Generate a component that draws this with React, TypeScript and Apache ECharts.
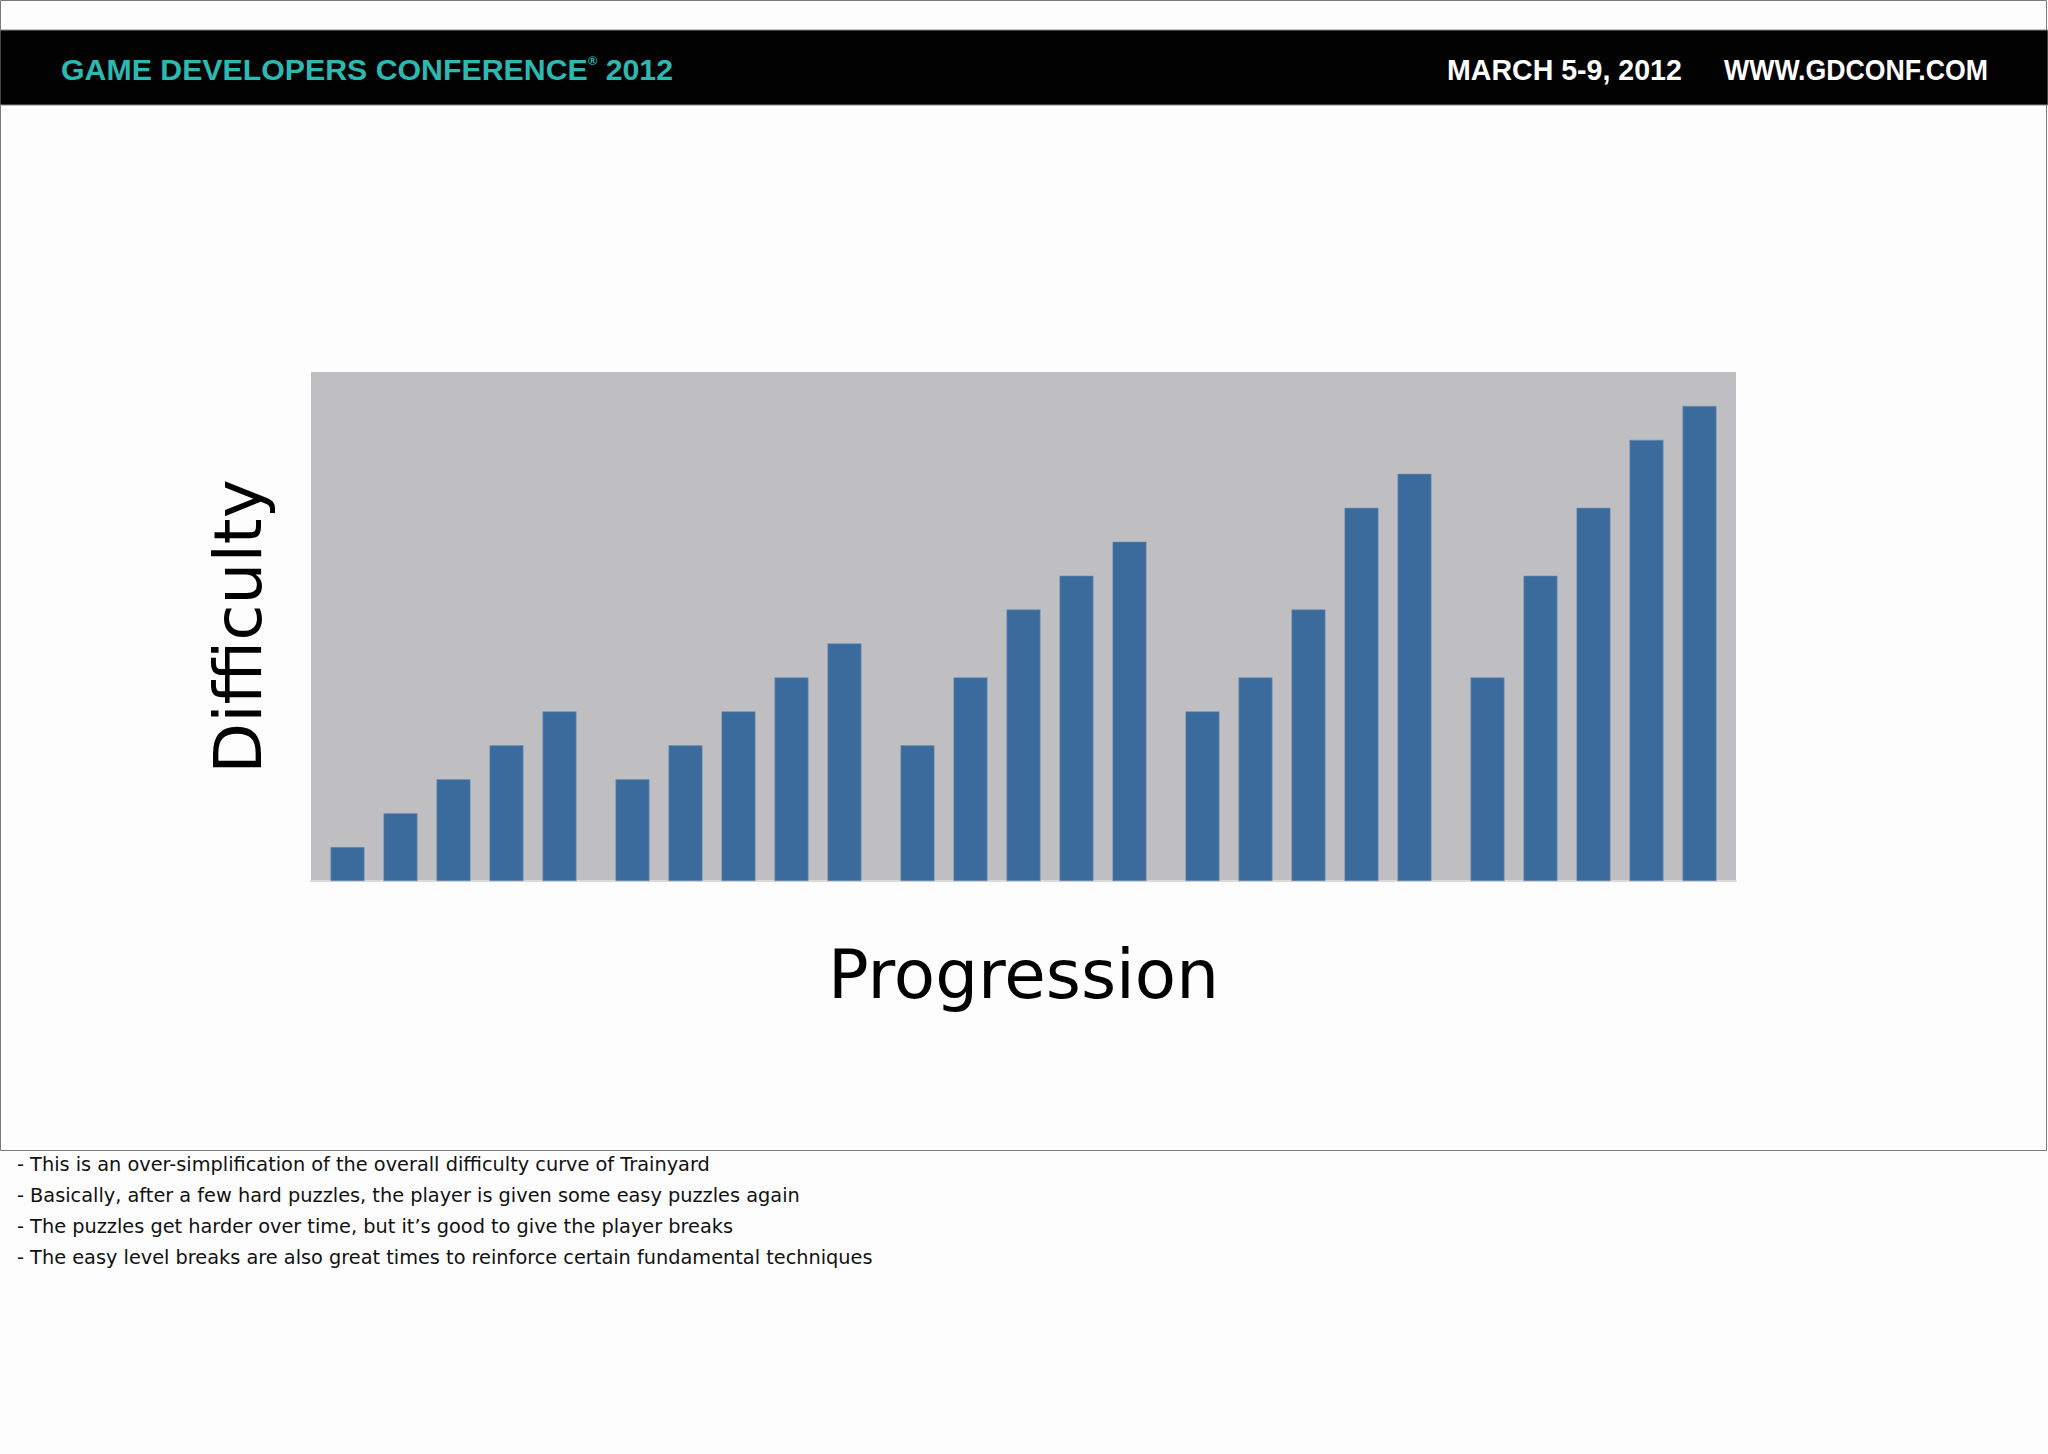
import React, { useEffect, useRef } from 'react';
import * as echarts from 'echarts';

// ---- data ----
const groupNames = ['Set 1', 'Set 2', 'Set 3', 'Set 4', 'Set 5'];
const levelNames = ['Puzzle 1', 'Puzzle 2', 'Puzzle 3', 'Puzzle 4', 'Puzzle 5'];
const set1 = [1, 2, 3, 4, 5];
const set2 = [3, 4, 5, 6, 7];
const set3 = [4, 6, 8, 9, 10];
const set4 = [5, 6, 8, 11, 12];
const set5 = [6, 9, 11, 13, 14];
const difficultyMax = 15;
const xAxisTitle = 'Progression';
const yAxisTitle = 'Difficulty';
const headerTitle = 'GAME DEVELOPERS CONFERENCE';
const headerMark = '®';
const headerYear = ' 2012';
const headerDate = 'MARCH 5-9, 2012';
const headerUrl = 'WWW.GDCONF.COM';
const notes = [
  '- This is an over-simplification of the overall difficulty curve of Trainyard',
  '- Basically, after a few hard puzzles, the player is given some easy puzzles again',
  '- The puzzles get harder over time, but it\u2019s good to give the player breaks',
  '- The easy level breaks are also great times to reinforce certain fundamental techniques',
];

function textWidth(text: string, font: string): number {
  const ctx = document.createElement('canvas').getContext('2d')!;
  ctx.font = font;
  return ctx.measureText(text).width;
}

export default function App() {
  const ref = useRef<HTMLDivElement>(null);

  useEffect(() => {
    const chart = echarts.init(ref.current!, null, { renderer: 'svg' });
    const sets = [set1, set2, set3, set4, set5];

    const series = levelNames.map((name, i) => ({
      type: 'bar' as const,
      name,
      data: sets.map((s) => s[i]),
      barGap: '56%',
      barCategoryGap: '13.7%',
      itemStyle: { color: '#3b6b9d', borderColor: '#6f92b8', borderWidth: 0.6 },
    }));

    const hFont = 'bold 29px "Liberation Sans"';
    const hMarkFont = 'bold 12px "Liberation Sans"';
    const titleNat =
      textWidth(headerTitle, hFont) + textWidth(headerMark, hMarkFont) + textWidth(headerYear, hFont);
    const titleScale = 612 / titleNat;
    const dateScale = 235 / textWidth(headerDate, hFont);
    const urlScale = 264 / textWidth(headerUrl, hFont);

    const noteSize = (17 * 693) / textWidth(notes[0], '17px "DejaVu Sans"');

    const graphic: any[] = [
      {
        type: 'rect',
        shape: { x: 0.5, y: 0.5, width: 2046, height: 1150 },
        style: { fill: 'none', stroke: '#7a7a7a', lineWidth: 1 },
        silent: true,
      },
      {
        type: 'rect',
        shape: { x: 0, y: 30, width: 2048, height: 75 },
        style: { fill: '#020202', stroke: '#8a8a8a', lineWidth: 1 },
        silent: true,
      },
      {
        type: 'text',
        x: 61,
        y: 70,
        scaleX: titleScale,
        style: {
          text: `{a|${headerTitle}}{m|${headerMark}}{a|${headerYear}}`,
          align: 'left',
          verticalAlign: 'middle',
          rich: {
            a: { font: hFont, fill: '#2bb9b2', verticalAlign: 'middle' },
            m: { font: hMarkFont, fill: '#2bb9b2', verticalAlign: 'top', padding: [0, 0, 14, 0] },
          },
        },
      },
      {
        type: 'text',
        x: 1447,
        y: 70,
        scaleX: dateScale,
        style: { text: headerDate, font: hFont, fill: '#ffffff', align: 'left', verticalAlign: 'middle' },
      },
      {
        type: 'text',
        x: 1724,
        y: 70,
        scaleX: urlScale,
        style: { text: headerUrl, font: hFont, fill: '#ffffff', align: 'left', verticalAlign: 'middle' },
      },
      ...notes.map((t, i) => ({
        type: 'text',
        x: 17,
        y: 1164 + i * 31,
        style: {
          text: t,
          font: `${noteSize.toFixed(2)}px "DejaVu Sans"`,
          fill: '#111111',
          align: 'left',
          verticalAlign: 'middle',
        },
      })),
    ];

    chart.setOption({
      animation: false,
      backgroundColor: '#fdfdfd',
      grid: {
        left: 311,
        right: 312,
        top: 372,
        bottom: 1454 - 881,
        show: true,
        backgroundColor: '#bfbec0',
        borderWidth: 0,
      },
      xAxis: {
        type: 'category',
        data: groupNames,
        axisLine: { show: true, lineStyle: { color: '#dadada', width: 2 } },
        axisTick: { show: false },
        axisLabel: { show: false },
        splitLine: { show: false },
        name: xAxisTitle,
        nameLocation: 'middle',
        nameGap: 59,
        nameTextStyle: { fontFamily: 'DejaVu Sans', fontSize: 67.5, color: '#000000' },
      },
      yAxis: {
        type: 'value',
        min: 0,
        max: difficultyMax,
        axisLine: { show: false },
        axisTick: { show: false },
        axisLabel: { show: false },
        splitLine: { show: false },
        name: yAxisTitle,
        nameLocation: 'middle',
        nameGap: 40,
        nameTextStyle: { fontFamily: 'DejaVu Sans', fontSize: 66, color: '#000000' },
      },
      series,
      graphic,
    });

    return () => chart.dispose();
  }, []);

  return (
    <div
      ref={ref}
      style={{ position: 'fixed', left: 0, top: 0, width: 2048, height: 1454 }}
    />
  );
}
